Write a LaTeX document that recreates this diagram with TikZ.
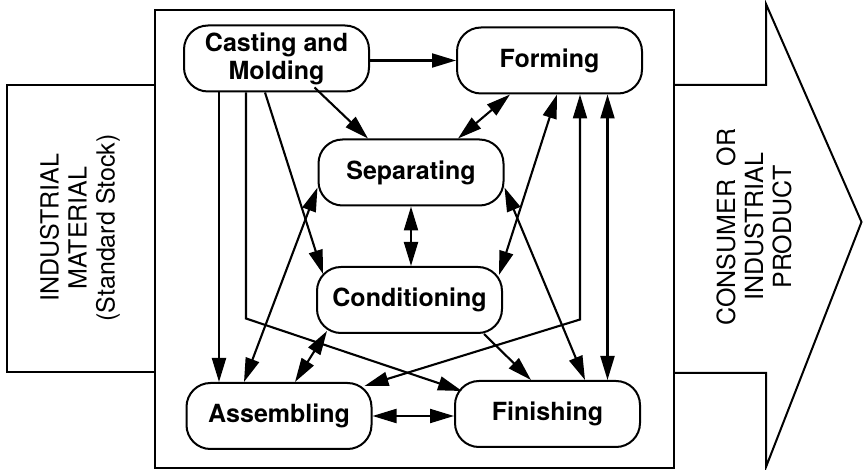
\documentclass[tikz,border=0pt]{standalone}
\usepackage{fontspec}
\setmainfont{TeX Gyre Heros}
\usetikzlibrary{arrows.meta,calc}
\begin{document}
\begin{tikzpicture}[x=1pt,y=-1pt,
 proc/.style={draw,line width=2pt,rounded corners=24pt,minimum width=185pt,minimum height=66pt,inner sep=0pt,align=center,font=\bfseries\fontsize{25}{28}\selectfont},
 conn/.style={line width=2.1pt,-{Triangle[length=24pt,width=14pt]}},
 bi/.style={line width=2.1pt,{Triangle[length=24pt,width=14pt]}-{Triangle[length=24pt,width=14pt]}},
 side/.style={rotate=90,align=center,font=\fontsize{25}{28}\selectfont},
 frame/.style={draw,line width=2pt,line join=miter}]
\useasboundingbox (0,0) rectangle (863,470);
% outer shapes
\draw[frame] (7,85) rectangle (155,372);
\draw[frame] (674,85) -- (766,85) -- (766,4) -- (861.5,222) -- (766,467) -- (766,373) -- (674,373);
\draw[frame,fill=white] (155,10) rectangle (674,468);
\node[side] (inmat) at (80,228) {INDUSTRIAL\\MATERIAL\\(Standard Stock)};
\node[side] (outprod) at (754,227) {CONSUMER\ \ OR\\INDUSTRIAL\\PRODUCT};
% process nodes
\node[proc] (cast) at (276.5,58.5) {Casting and\\Molding};
\node[proc] (form) at (549.5,60.5) {Forming};
\node[proc] (sep) at (411,172.5) {Separating};
\node[proc] (cond) at (409.5,300) {Conditioning};
\node[proc] (asm) at (279,416) {Assembling};
\node[proc] (fin) at (547.5,414) {Finishing};
% connectors
\draw[conn] (cast.east |- form.west) -- (form.west);
\draw[conn] ([shift={(38,-5)}]cast.south) -- ([shift={(-43,0)}]sep.north);
\draw[bi] ([shift={(-39.5,0)}]form.south) -- ([shift={(47,0)}]sep.north);
\draw[conn] ([shift={(-57.5,0)}]cast.south) -- ([shift={(-57.5,0)}]cast.south |- asm.north);
\coordinate (k1) at ([shift={(-30.5,226)}]cast.south);
\draw[conn] ([shift={(-30.5,0)}]cast.south) -- (k1) -- ([shift={(8,11)}]fin.north west);
\draw[conn] ([shift={(-11.5,0)}]cast.south) -- ([shift={(7,8)}]cond.north west);
\draw[bi] ([shift={(0,15)}]sep.west) -- ([shift={(-35,0)}]asm.north);
\draw[bi] (sep.south) -- (sep.south |- cond.north);
\draw[bi] ([shift={(7.5,0)}]form.south) -- ([shift={(-4,9)}]cond.north east);
\draw[bi] ([shift={(0,15)}]sep.east) -- ([shift={(37.5,0)}]fin.north);
\coordinate (k2) at ([shift={(30.5,225)}]form.south);
\draw[bi] ([shift={(30.5,0)}]form.south) -- (k2) -- ([shift={(-8,4)}]asm.north east);
\draw[bi] ([shift={(58,0)}]form.south) -- ([shift={(58,0)}]form.south |- fin.north);
\draw[conn] ([shift={(74.5,0)}]cond.south) -- ([shift={(-16.5,0)}]fin.north);
\draw[bi] (asm.east) -- (asm.east -| fin.west);
\draw[bi] ([shift={(16,0)}]asm.north) -- ([shift={(11,-3)}]cond.south west);
\end{tikzpicture}
\end{document}
